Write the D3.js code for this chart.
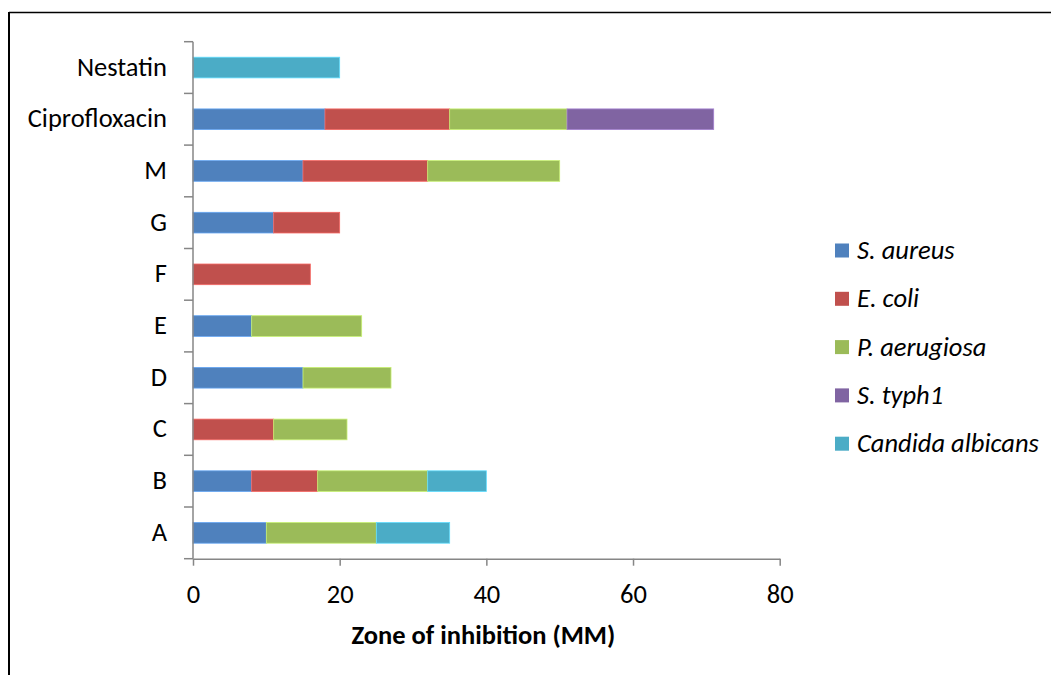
<!DOCTYPE html>
<html>
<head>
<meta charset="utf-8">
<script src="https://cdn.jsdelivr.net/npm/d3@7"></script>
<style>
  html, body { margin: 0; padding: 0; background: #fff; }
  svg { display: block; font-family: Calibri, Carlito, "Open Sans", sans-serif; }
</style>
</head>
<body>
<svg id="chart" width="1051" height="675"></svg>
<script>
// ---- data ----
const categories = ["A", "B", "C", "D", "E", "F", "G", "M", "Ciprofloxacin", "Nestatin"];
const seriesNames = ["S. aureus", "E. coli", "P. aerugiosa", "S. typh1", "Candida albicans"];
const sAureus    = [10, 8, 0, 15, 8, 0, 11, 15, 18, 0];
const eColi      = [0, 9, 11, 0, 0, 16, 9, 17, 17, 0];
const pAerugiosa = [15, 15, 10, 12, 15, 0, 0, 18, 16, 0];
const sTyph1     = [0, 0, 0, 0, 0, 0, 0, 0, 20, 0];
const candida    = [10, 8, 0, 0, 0, 0, 0, 0, 0, 20];
const xTicks = [0, 20, 40, 60, 80];
const colors = ["#4F81BD", "#C0504D", "#9BBB59", "#8064A2", "#4BACC6"];
const xTitle = "Zone of inhibition (MM)";

const seriesValues = [sAureus, eColi, pAerugiosa, sTyph1, candida];
const rows = categories.map((c, i) => {
  const r = { cat: c };
  seriesNames.forEach((s, k) => r[s] = seriesValues[k][i]);
  return r;
});

const FS = 26.5;
const svg = d3.select("#chart");

// frame
svg.append("line").attr("x1", 9).attr("x2", 1051).attr("y1", 12.5).attr("y2", 12.5)
  .attr("stroke", "#000").attr("stroke-width", 1.5);
svg.append("line").attr("x1", 9).attr("x2", 9).attr("y1", 12).attr("y2", 675)
  .attr("stroke", "#000").attr("stroke-width", 2);

const x = d3.scaleLinear().domain([0, 80]).range([193, 779.7]);
const y = d3.scaleBand().domain(categories.slice().reverse()).range([41.7, 558.7])
  .paddingInner(0.6).paddingOuter(0.3);

const stack = d3.stack().keys(seriesNames);
const stacked = stack(rows);

const gBars = svg.append("g");
stacked.forEach((layer, k) => {
  gBars.selectAll(null).data(layer.filter(d => d[1] - d[0] > 0)).enter().append("rect")
    .attr("x", d => x(d[0]))
    .attr("y", d => y(d.data.cat))
    .attr("width", d => x(d[1]) - x(d[0]))
    .attr("height", y.bandwidth())
    .attr("fill", colors[k])
    .attr("stroke", d3.color(colors[k]).brighter(0.7))
    .attr("stroke-width", 0.8);
});

const axisColor = "#868686";

// y axis line and boundary ticks
const step = y.step();
const yTop = y.range()[0], yBot = y.range()[1];
svg.append("line").attr("x1", x(0)).attr("x2", x(0)).attr("y1", yTop).attr("y2", yBot)
  .attr("stroke", axisColor).attr("stroke-width", 1.5);
const bounds = d3.range(categories.length + 1).map(i => yTop + i * step);
svg.selectAll(null).data(bounds).enter().append("line")
  .attr("x1", x(0) - 9).attr("x2", x(0)).attr("y1", d => d).attr("y2", d => d)
  .attr("stroke", axisColor).attr("stroke-width", 1.5);

// y labels
const gy = svg.append("g").attr("transform", `translate(${x(0)},0)`)
  .call(d3.axisLeft(y).tickSize(0).tickPadding(26));
gy.select(".domain").remove();
gy.selectAll("text").attr("font-size", FS).attr("fill", "#000")
  .attr("font-family", "Calibri, Carlito, 'Open Sans', sans-serif").attr("dy", "0.3em");

// x axis
const gx = svg.append("g").attr("transform", `translate(0,${yBot})`)
  .call(d3.axisBottom(x).tickValues(xTicks).tickSize(7).tickSizeOuter(0));
gx.select(".domain").attr("stroke", axisColor).attr("stroke-width", 1.5);
gx.selectAll(".tick line").attr("stroke", axisColor).attr("stroke-width", 1.5);
gx.selectAll("text").attr("font-size", FS).attr("fill", "#000")
  .attr("font-family", "Calibri, Carlito, 'Open Sans', sans-serif")
  .attr("y", 44.5).attr("dy", 0);

// x title
svg.append("text").attr("x", (x(0) + x(80)) / 2 - 3).attr("y", 644)
  .attr("text-anchor", "middle").attr("font-size", FS).attr("font-weight", "bold")
  .attr("fill", "#000").text(xTitle);

// legend
const lg = svg.append("g");
seriesNames.forEach((s, k) => {
  const cy = 250.5 + k * 48.3;
  lg.append("rect").attr("x", 835).attr("y", cy - 7).attr("width", 14).attr("height", 14)
    .attr("fill", colors[k]);
  lg.append("text").attr("x", 857).attr("y", cy).attr("dy", "0.32em")
    .attr("font-size", FS).attr("font-style", "italic").attr("fill", "#000").text(s);
});
</script>
</body>
</html>
